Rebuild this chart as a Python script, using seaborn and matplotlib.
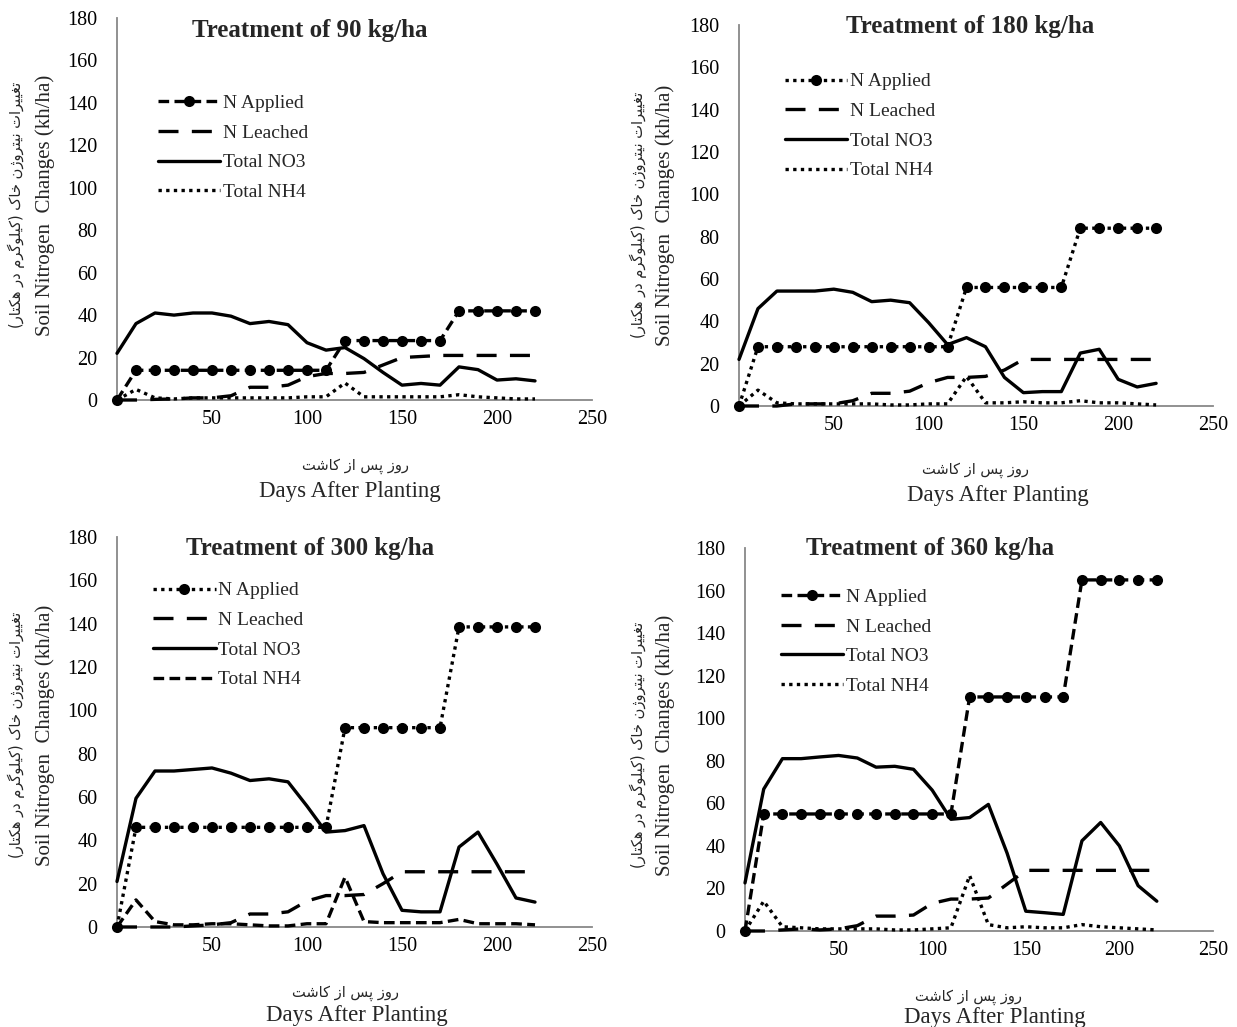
import numpy as np
import seaborn as sns
import matplotlib.pyplot as plt

sns.set_style('white')
plt.rcParams['font.family'] = ['Liberation Serif', 'DejaVu Sans']

# ---- data -------------------------------------------------------------
days = [0, 10, 20, 30, 40, 50, 60, 70, 80, 90, 100, 110,
        120, 130, 140, 150, 160, 170, 180, 190, 200, 210, 220]

applied_90 = [0] + [14] * 11 + [28] * 6 + [42] * 5
leached_90 = [0, 0, 0.3, 0.5, 1, 1, 2, 6, 6, 7, 11, 12.5,
              12.5, 13, 16.5, 20, 20.5, 21, 21, 21, 21, 21, 21]
no3_90 = [22, 36, 41, 40, 41, 41, 39.5, 36, 37, 35.5, 27, 23.5,
          24.7, 19.5, 13, 7, 7.8, 7, 15.6, 14.3, 9.4, 10, 9]
nh4_90 = [0, 5, 1, 0.5, 1, 1, 1, 1, 1, 1, 1.5, 1.5,
          8, 1.5, 1.5, 1.5, 1.5, 1.5, 2.5, 1.5, 1, 0.5, 0.5]

applied_180 = [0] + [28] * 11 + [56] * 6 + [84] * 5
leached_180 = [0, 0, 0, 1, 1, 1, 2.5, 6, 6, 7, 11, 13.5,
               13.5, 14, 17, 22, 22, 22, 22, 22, 22, 22, 22]
no3_180 = [22, 46, 54.3, 54.3, 54.3, 55.2, 53.7, 49.3, 50, 48.8, 39.4, 29,
           32.3, 28, 13.5, 6.3, 6.8, 6.8, 25, 26.8, 12.6, 9, 10.7]
nh4_180 = [0, 7.5, 1.5, 1, 1, 1, 1, 1, 0.5, 0.5, 1, 1,
           14, 1.5, 1.5, 2, 1.5, 1.5, 2.5, 1.5, 1.5, 1, 0.5]

applied_300 = [0] + [46] * 11 + [92] * 6 + [138.5] * 5
leached_300 = [0, 0, 0, 0, 0.5, 1, 2, 6, 6, 7, 12, 14.5,
               14.5, 15, 20, 25.5, 25.5, 25.5, 25.5, 25.5, 25.5, 25.5, 25.5]
no3_300 = [21, 59.4, 72, 72, 72.7, 73.4, 71, 67.6, 68.4, 67, 55.8, 43.8,
           44.5, 46.8, 24.6, 7.7, 7, 7, 36.9, 43.8, 29, 13.4, 11.5]
nh4_300 = [0, 12.5, 2.5, 1, 1, 1.5, 1.5, 1, 0.5, 0.5, 1.5, 1.5,
           23, 2.5, 2, 2, 2, 2, 3.5, 1.5, 1.5, 1.5, 1]

applied_360 = [0] + [55] * 11 + [110] * 6 + [165] * 5
leached_360 = [0, 0, 0.5, 1, 0.5, 1, 2.5, 7, 7, 7.5, 13, 15,
               15, 15.5, 22, 28.5, 28.5, 28.5, 28.5, 28.5, 28.5, 28.5, 28.5]
no3_360 = [22.6, 66.7, 81, 81, 81.8, 82.5, 81.3, 77, 77.4, 76, 66.2, 52.5,
           53.3, 59.5, 36.6, 9.3, 8.6, 7.8, 42.4, 51, 40, 21.3, 14]
nh4_360 = [0, 14, 2, 1.5, 1, 1, 1, 1, 0.5, 0.5, 1, 1.5,
           26, 3, 1.5, 2, 1.5, 1.5, 3, 2, 1.5, 1, 0.5]

series_names = ['N Applied', 'N Leached', 'Total NO3', 'Total NH4']
titles = ['Treatment of 90 kg/ha', 'Treatment of 180 kg/ha',
          'Treatment of 300 kg/ha', 'Treatment of 360 kg/ha']
y_ticks = [0, 20, 40, 60, 80, 100, 120, 140, 160, 180]
x_ticks = [0, 50, 100, 150, 200, 250]
x_ticklabels = ['', '50', '100', '150', '200', '250']
en_ylabel = 'Soil Nitrogen  Changes (kh/ha)'
en_xlabel = 'Days After Planting'
fa_ylabel = 'تغییرات نیتروژن خاک (کیلوگرم در هکتار)'
fa_xlabel = 'روز پس از کاشت'

# ---- simple Persian shaping (presentation forms, visual order) ---------
FORMS = {
    'ا': (0xFE8D, 0xFE8E, None, None), 'د': (0xFEA9, 0xFEAA, None, None),
    'ر': (0xFEAD, 0xFEAE, None, None), 'ز': (0xFEAF, 0xFEB0, None, None),
    'ژ': (0xFB8A, 0xFB8B, None, None), 'و': (0xFEED, 0xFEEE, None, None),
    'ت': (0xFE95, 0xFE96, 0xFE97, 0xFE98), 'خ': (0xFEA5, 0xFEA6, 0xFEA7, 0xFEA8),
    'س': (0xFEB1, 0xFEB2, 0xFEB3, 0xFEB4), 'ش': (0xFEB5, 0xFEB6, 0xFEB7, 0xFEB8),
    'غ': (0xFECD, 0xFECE, 0xFECF, 0xFED0), 'ل': (0xFEDD, 0xFEDE, 0xFEDF, 0xFEE0),
    'م': (0xFEE1, 0xFEE2, 0xFEE3, 0xFEE4), 'ن': (0xFEE5, 0xFEE6, 0xFEE7, 0xFEE8),
    'ه': (0xFEE9, 0xFEEA, 0xFEEB, 0xFEEC), 'پ': (0xFB56, 0xFB57, 0xFB58, 0xFB59),
    'ک': (0xFB8E, 0xFB8F, 0xFB90, 0xFB91), 'گ': (0xFB92, 0xFB93, 0xFB94, 0xFB95),
    'ی': (0xFBFC, 0xFBFD, 0xFBFE, 0xFBFF),
}


def shape_fa(text):
    out = []
    for i, c in enumerate(text):
        if c not in FORMS:
            out.append({'(': ')', ')': '('}.get(c, c))
            continue
        prev = text[i - 1] if i > 0 else ''
        nxt = text[i + 1] if i + 1 < len(text) else ''
        p = prev in FORMS and FORMS[prev][2] is not None
        n = nxt in FORMS and FORMS[c][2] is not None
        iso, fin, ini, med = FORMS[c]
        if p and n:
            g = med
        elif p:
            g = fin
        elif n:
            g = ini
        else:
            g = iso
        out.append(chr(g))
    return ''.join(reversed(out))


# ---- figure -----------------------------------------------------------
W, H = 1237, 1027
fig = plt.figure(figsize=(W / 100, H / 100), dpi=100)


def px_axes(x0, x1, ytop, ybot):
    return fig.add_axes([x0 / W, 1 - ybot / H, (x1 - x0) / W, (ybot - ytop) / H])


dot = (0, (1, 1.3))
short = (0, (3.2, 1.6))
long_ = (0, (6, 4))

panels = [
    dict(box=(117, 592, 18, 400), data=(applied_90, leached_90, no3_90, nh4_90),
         app=short, nh4=dot, leg=(0.07, 0.82),
         title=(310, 30), ylab=(16, 45, 205), xlab=(355, 466, 350, 492)),
    dict(box=(739, 1213, 25, 406), data=(applied_180, leached_180, no3_180, nh4_180),
         app=dot, nh4=dot, leg=(0.08, 0.895),
         title=(970, 27), ylab=(638, 665, 215), xlab=(975, 470, 998, 496)),
    dict(box=(117, 592, 537, 927), data=(applied_300, leached_300, no3_300, nh4_300),
         app=dot, nh4=short, leg=(0.06, 0.905),
         title=(310, 548), ylab=(16, 45, 735), xlab=(345, 993, 357, 1015)),
    dict(box=(745, 1213, 548, 931), data=(applied_360, leached_360, no3_360, nh4_360),
         app=short, nh4=dot, leg=(0.06, 0.915),
         title=(930, 548), ylab=(638, 665, 745), xlab=(968, 997, 995, 1018)),
]

for i, pan in enumerate(panels):
    ax = px_axes(*pan['box'])
    applied, leached, no3, nh4 = pan['data']
    sns.lineplot(x=days, y=applied, ax=ax, color='black', linewidth=2.4,
                 linestyle=pan['app'], marker='o', markersize=8,
                 markeredgewidth=0, label=series_names[0], clip_on=False,
                 zorder=4)
    sns.lineplot(x=days, y=leached, ax=ax, color='black', linewidth=2.4,
                 linestyle=long_, label=series_names[1], clip_on=False,
                 zorder=3)
    sns.lineplot(x=days, y=no3, ax=ax, color='black', linewidth=2.4,
                 linestyle='-', label=series_names[2], clip_on=False,
                 zorder=3)
    sns.lineplot(x=days, y=nh4, ax=ax, color='black', linewidth=2.4,
                 linestyle=pan['nh4'], label=series_names[3], clip_on=False,
                 zorder=3)

    ax.set_xlim(0, 250)
    ax.set_ylim(0, 180)
    ax.set_xticks(x_ticks)
    ax.set_xticklabels(x_ticklabels)
    ax.set_yticks(y_ticks)
    ax.tick_params(axis='both', labelsize=14.5, colors='#888888',
                   labelcolor='black', length=5, width=1.2, direction='out')
    ax.tick_params(axis='x', pad=2)
    ax.tick_params(axis='y', pad=9)
    for s in ['top', 'right']:
        ax.spines[s].set_visible(False)
    for s in ['left', 'bottom']:
        ax.spines[s].set_color('#888888')
        ax.spines[s].set_linewidth(1.3)
    ax.set_xlabel('')
    ax.set_ylabel('')

    ax.legend(loc='upper left', bbox_to_anchor=pan['leg'], frameon=False,
              fontsize=14, handlelength=3.2, labelspacing=0.62,
              handletextpad=0.15, borderaxespad=0)

    tx, ty = pan['title']
    fig.text(tx / W, 1 - ty / H, titles[i], ha='center', va='center',
             fontsize=18, fontweight='bold')
    fx, ex, cy = pan['ylab']
    fig.text(fx / W, 1 - cy / H, shape_fa(fa_ylabel), rotation=90,
             ha='center', va='center', fontsize=10.5,
             family=['DejaVu Sans'])
    fig.text(ex / W, 1 - cy / H, en_ylabel, rotation=90,
             ha='center', va='center', fontsize=15)
    px_, py_, qx, qy = pan['xlab']
    fig.text(px_ / W, 1 - py_ / H, shape_fa(fa_xlabel), ha='center',
             va='center', fontsize=10.5, family=['DejaVu Sans'])
    fig.text(qx / W, 1 - qy / H, en_xlabel, ha='center', va='center',
             fontsize=16.5)

fig.savefig('out.png', dpi=100)
